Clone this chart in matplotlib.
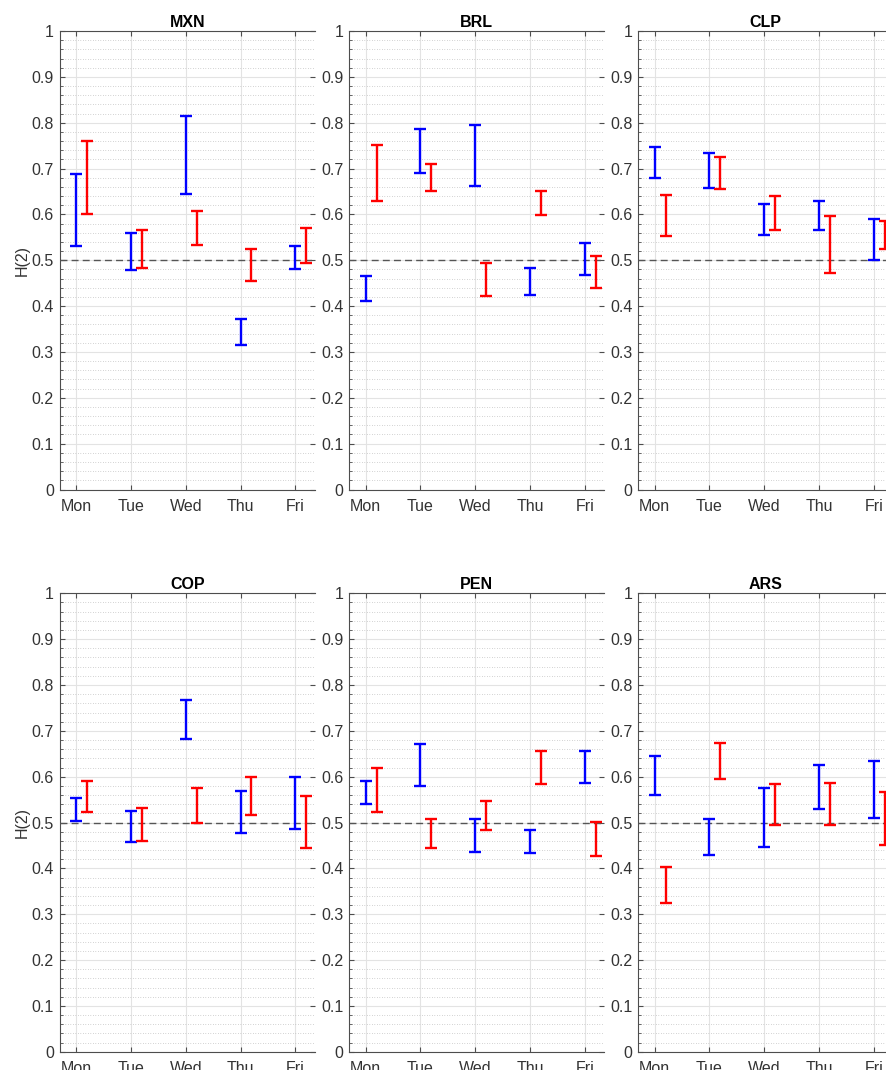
import numpy as np
import matplotlib
matplotlib.use('Agg')
import matplotlib.pyplot as plt
from matplotlib.ticker import MultipleLocator, FuncFormatter

plt.rcParams['font.family'] = ['Liberation Sans', 'DejaVu Sans']

days = ['Mon', 'Tue', 'Wed', 'Thu', 'Fri']
currencies = ['MXN', 'BRL', 'CLP', 'COP', 'PEN', 'ARS']

# confidence intervals of H(2), one (low, high) pair per day
mxn_blue_low = [0.531, 0.478, 0.645, 0.315, 0.481]
mxn_blue_high = [0.689, 0.560, 0.815, 0.372, 0.531]
mxn_red_low = [0.601, 0.483, 0.534, 0.455, 0.493]
mxn_red_high = [0.759, 0.566, 0.608, 0.525, 0.570]

brl_blue_low = [0.411, 0.690, 0.663, 0.424, 0.468]
brl_blue_high = [0.465, 0.787, 0.796, 0.484, 0.537]
brl_red_low = [0.630, 0.651, 0.421, 0.598, 0.440]
brl_red_high = [0.751, 0.711, 0.493, 0.650, 0.510]

clp_blue_low = [0.679, 0.657, 0.554, 0.565, 0.501]
clp_blue_high = [0.746, 0.733, 0.622, 0.629, 0.589]
clp_red_low = [0.553, 0.655, 0.565, 0.472, 0.524]
clp_red_high = [0.642, 0.725, 0.640, 0.597, 0.586]

cop_blue_low = [0.503, 0.457, 0.682, 0.478, 0.486]
cop_blue_high = [0.553, 0.525, 0.767, 0.569, 0.599]
cop_red_low = [0.524, 0.459, 0.500, 0.517, 0.444]
cop_red_high = [0.591, 0.532, 0.575, 0.599, 0.557]

pen_blue_low = [0.540, 0.580, 0.436, 0.433, 0.587]
pen_blue_high = [0.591, 0.672, 0.508, 0.483, 0.655]
pen_red_low = [0.522, 0.445, 0.483, 0.583, 0.428]
pen_red_high = [0.618, 0.507, 0.546, 0.656, 0.501]

ars_blue_low = [0.559, 0.429, 0.447, 0.530, 0.511]
ars_blue_high = [0.645, 0.508, 0.575, 0.625, 0.634]
ars_red_low = [0.325, 0.596, 0.494, 0.495, 0.452]
ars_red_high = [0.403, 0.673, 0.583, 0.587, 0.567]

blue_low = [mxn_blue_low, brl_blue_low, clp_blue_low, cop_blue_low, pen_blue_low, ars_blue_low]
blue_high = [mxn_blue_high, brl_blue_high, clp_blue_high, cop_blue_high, pen_blue_high, ars_blue_high]
red_low = [mxn_red_low, brl_red_low, clp_red_low, cop_red_low, pen_red_low, ars_red_low]
red_high = [mxn_red_high, brl_red_high, clp_red_high, cop_red_high, pen_red_high, ars_red_high]

W, H = 887, 1070
fig = plt.figure(figsize=(W / 100, H / 100), dpi=100)

lefts = [59.5, 349, 638]
width = 255.5
tops = [31, 593.3]
height = 458.5

axis_color = '#4d4d4d'
x = np.arange(1, 6)


def draw_ci(ax, xs, low, high, color):
    low = np.array(low)
    high = np.array(high)
    mid = (low + high) / 2
    half = (high - low) / 2
    ax.errorbar(xs, mid, yerr=half, fmt='none', ecolor=color, elinewidth=1.7,
                capsize=4.5, capthick=1.7, zorder=4)


for i, cur in enumerate(currencies):
    r, c = divmod(i, 3)
    ax = fig.add_axes([lefts[c] / W, 1 - (tops[r] + height) / H, width / W, height / H])

    ax.axhline(0.5, color='#555555', lw=1.0, ls=(0, (5, 3)), zorder=3)
    draw_ci(ax, x, blue_low[i], blue_high[i], 'blue')
    draw_ci(ax, x + 0.2, red_low[i], red_high[i], 'red')

    ax.set_xlim(0.695, 5.36)
    ax.set_ylim(0, 1)
    ax.set_xticks(x)
    ax.set_xticklabels(days)
    ax.yaxis.set_major_locator(MultipleLocator(0.1))
    ax.yaxis.set_minor_locator(MultipleLocator(0.02))
    ax.yaxis.set_major_formatter(FuncFormatter(lambda v, p: '%g' % round(v, 2)))

    ax.grid(True, which='major', color='#e3e3e3', lw=0.8, zorder=0)
    ax.grid(True, which='minor', axis='y', color='#b5b5b5', lw=0.6, ls=(0, (0.8, 2.2)), zorder=0)
    ax.set_axisbelow(True)

    for side in ['left', 'bottom', 'top']:
        ax.spines[side].set_color(axis_color)
        ax.spines[side].set_linewidth(0.8)
    ax.spines['right'].set_visible(False)

    ax.tick_params(which='major', direction='in', length=3.5, width=0.8, color=axis_color,
                   top=True, right=True, labelsize=11.5, labelcolor='#333333')
    ax.tick_params(axis='x', pad=6.5)
    ax.tick_params(axis='y', pad=4)
    ax.tick_params(which='minor', direction='in', length=2, width=0.6, color=axis_color,
                   left=True, right=False)

    ax.set_title(cur, fontsize=11.5, fontweight='bold', pad=3)
    if c == 0:
        ax.set_ylabel('H(2)', fontsize=11.5, color='#333333', labelpad=1)

fig.savefig('out.png', dpi=100)
